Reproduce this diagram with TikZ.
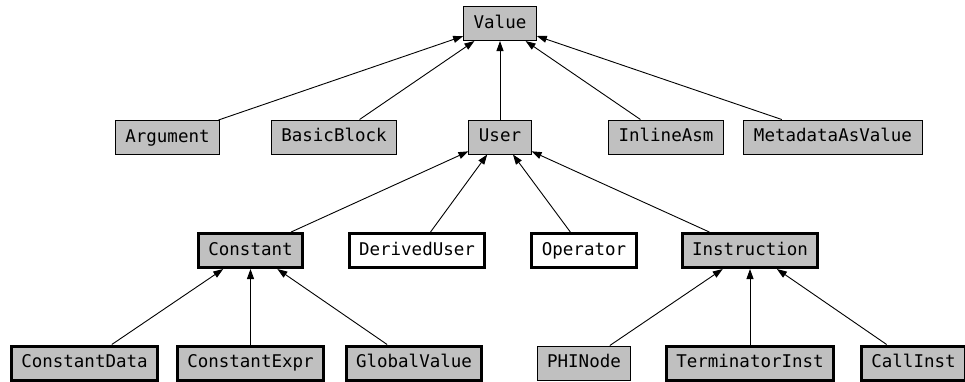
\documentclass[tikz,border=0pt]{standalone}
\usepackage{fontspec}
\setmonofont{DejaVu Sans Mono}
\usetikzlibrary{arrows.meta}

\definecolor{boxgray}{RGB}{192,192,192}

\tikzset{
  cls/.style={draw, fill=boxgray, line width=1pt, inner xsep=10pt,
    minimum height=34pt, text height=13pt, text depth=4pt,
    font=\fontsize{17.5}{20}\selectfont\ttfamily},
  abstractcls/.style={cls, line width=3pt},
  plaincls/.style={cls, fill=white, line width=3pt},
  inherit/.style={-{Triangle[length=10pt,width=7pt]}, line width=0.9pt}
}

\begin{document}
\begin{tikzpicture}[x=1pt, y=-1pt]
    \useasboundingbox (0,0) rectangle (965,381);

    % Root
    \node[cls] (value) at (500,23.5) {Value};

    % Second level
    \node[cls] (argument) at (167.5,137.5) {Argument};
    \node[cls] (basicblock) at (334,137) {BasicBlock};
    \node[cls] (user) at (500,137) {User};
    \node[cls] (inlineasm) at (666,137) {InlineAsm};
    \node[cls] (metadata) at (833,137) {MetadataAsValue};

    % Third level
    \node[abstractcls] (constant) at (250.5,250.5) {Constant};
    \node[plaincls] (deriveduser) at (417,250.5) {DerivedUser};
    \node[plaincls] (operator) at (584,250.5) {Operator};
    \node[abstractcls] (instruction) at (750,250.5) {Instruction};

    % Leaves
    \node[abstractcls] (constantdata) at (84.5,363) {ConstantData};
    \node[abstractcls] (constantexpr) at (250.5,363) {ConstantExpr};
    \node[abstractcls] (globalvalue) at (414,363) {GlobalValue};
    \node[cls] (phinode) at (584,363) {PHINode};
    \node[abstractcls] (terminatorinst) at (750,363) {TerminatorInst};
    \node[abstractcls] (callinst) at (913.5,363) {CallInst};

    % Inheritance arrows
    \draw[inherit] (argument) -- (value);
    \draw[inherit] (basicblock) -- (value);
    \draw[inherit] (user) -- (value);
    \draw[inherit] (inlineasm) -- (value);
    \draw[inherit] (metadata) -- (value);

    \draw[inherit] (constant) -- (user);
    \draw[inherit] (deriveduser) -- (user);
    \draw[inherit] (operator) -- (user);
    \draw[inherit] (instruction) -- (user);

    \draw[inherit] (constantdata) -- (constant);
    \draw[inherit] (constantexpr) -- (constant);
    \draw[inherit] (globalvalue) -- (constant);

    \draw[inherit] (phinode) -- (instruction);
    \draw[inherit] (terminatorinst) -- (instruction);
    \draw[inherit] (callinst) -- (instruction);
\end{tikzpicture}
\end{document}
